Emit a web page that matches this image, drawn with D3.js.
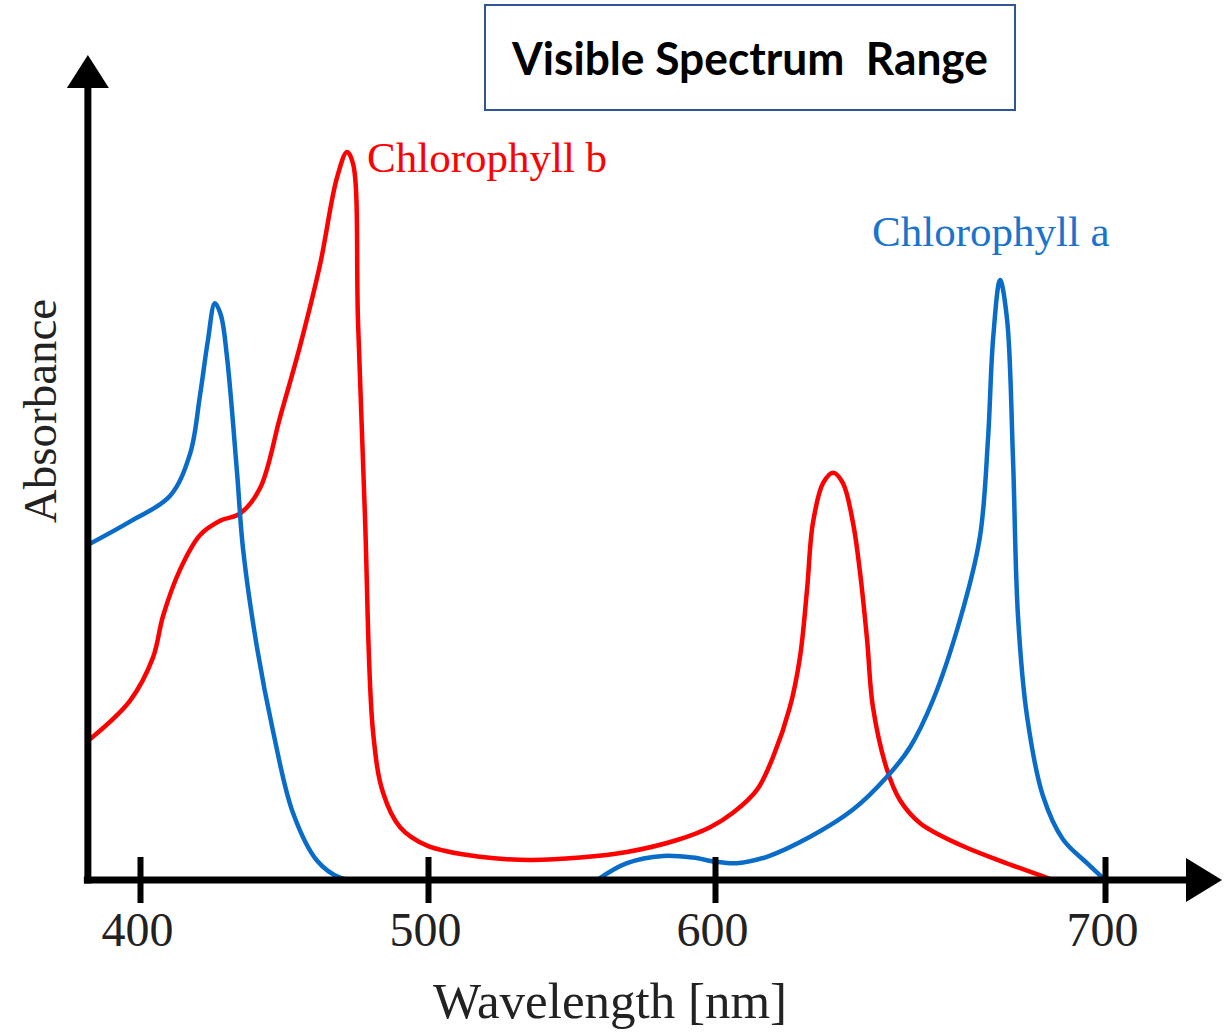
<!DOCTYPE html>
<html>
<head>
<meta charset="utf-8">
<script src="https://cdn.jsdelivr.net/npm/d3@7"></script>
<style>
  html, body { margin: 0; padding: 0; background: #ffffff; }
  svg { display: block; }
</style>
</head>
<body>
<svg id="chart" width="1231" height="1033"></svg>
<script>
// ---------- data ----------
const title = "Visible Spectrum  Range";
const xLabel = "Wavelength [nm]";
const yLabel = "Absorbance";
const tickValues = [400, 500, 600, 700];
const tickLabels = ["400", "500", "600", "700"];

// Chlorophyll a (blue) – null marks the gap where the curve sits on the axis
const chlAWavelength = [381.9, 396.5, 410.4, 417.4, 420.8, 423.6, 426.0, 428.1, 430.2, 433.7, 435.8, 440.6, 446.2, 453.1, 461.5, 469.4, 476.4,
  null,
  558.9, 569.3, 581.9, 592.3, 600.0, 605.6, 613.3, 624.4, 635.4, 644.1, 650.0, 655.9, 662.8, 667.9, 670.0, 671.3, 673.1, 674.9, 676.4, 677.7, 680.0, 684.1, 689.2, 695.4, 700.0];
const chlAAbsorbance = [41.9, 44.8, 48.0, 53.3, 60.5, 67.5, 72.1, 70.6, 65.4, 50.9, 41.3, 29.1, 18.6, 8.4, 2.4, 0.3, 0,
  null,
  0, 2.1, 3.0, 2.8, 2.3, 2.1, 2.9, 5.4, 8.8, 12.9, 16.6, 22.5, 32.5, 42.8, 55.1, 67.6, 75.0, 70.0, 52.8, 32.9, 20.5, 10.5, 5.1, 2.1, 0];

// Chlorophyll b (red)
const chlBWavelength = [382.6, 396.5, 404.5, 408.0, 413.9, 420.8, 427.8, 434.7, 441.7, 448.6, 455.6, 462.5, 468.4, 471.9, 474.0, 475.7, 478.1, 480.9, 484.4, 490.3, 499.7, 518.1, 535.5, 553.0, 569.3, 586.8, 598.3, 604.6, 610.8, 614.9, 619.2, 621.8, 623.6, 625.1, 627.7, 630.3, 632.8, 635.4, 637.2, 639.0, 640.5, 644.1, 647.4, 652.6, 662.8, 673.1, 686.7];
const chlBAbsorbance = [17.6, 22.4, 27.8, 33.0, 38.8, 43.1, 44.9, 45.8, 49.0, 57.8, 66.8, 76.9, 87.8, 91.0, 89.5, 69.8, 45.6, 18.6, 10.9, 6.6, 4.3, 2.9, 2.5, 2.8, 3.5, 5.0, 6.6, 8.4, 11.3, 15.4, 21.6, 27.9, 36.3, 44.6, 49.6, 50.9, 49.6, 44.6, 38.4, 30.0, 21.6, 13.8, 10.0, 7.1, 4.4, 2.4, 0];

const seriesNames = ["Chlorophyll a", "Chlorophyll b"];
const seriesColors = ["#0a6cc9", "#ff0000"];

// ---------- scales ----------
const svg = d3.select("#chart");
// the drawn wavelength axis is not evenly spaced, so use a piecewise linear scale
const x = d3.scaleLinear().domain([400, 500, 600, 700]).range([140, 428, 715, 1105]);
const y = d3.scaleLinear().domain([0, 100]).range([880, 80]);
const axisY = y(0);
const axisX = x(381.9);

// ---------- title box ----------
svg.append("rect")
  .attr("x", 485).attr("y", 5).attr("width", 530).attr("height", 105)
  .attr("fill", "#ffffff").attr("stroke", "#2f5597").attr("stroke-width", 2);
svg.append("text")
  .attr("x", 750).attr("y", 75)
  .attr("text-anchor", "middle")
  .attr("font-family", "Lato, 'Open Sans', sans-serif")
  .attr("font-weight", "bold")
  .attr("font-size", 46)
  .attr("textLength", 476).attr("lengthAdjust", "spacingAndGlyphs")
  .attr("fill", "#000000")
  .style("white-space", "pre")
  .text(title);

// ---------- curves ----------
const line = d3.line()
  .defined(d => d[0] != null && d[1] != null)
  .x(d => x(d[0])).y(d => y(d[1]))
  .curve(d3.curveCatmullRom.alpha(0.5));

const chlA = chlAWavelength.map((w, i) => [w, chlAAbsorbance[i]]);
const chlB = chlBWavelength.map((w, i) => [w, chlBAbsorbance[i]]);

svg.append("path").datum(chlB)
  .attr("d", line).attr("fill", "none")
  .attr("stroke", seriesColors[1]).attr("stroke-width", 4.5)
  .attr("stroke-linejoin", "round").attr("stroke-linecap", "round");
svg.append("path").datum(chlA)
  .attr("d", line).attr("fill", "none")
  .attr("stroke", seriesColors[0]).attr("stroke-width", 4.5)
  .attr("stroke-linejoin", "round").attr("stroke-linecap", "round");

// ---------- axes ----------
// y axis shaft + arrow
svg.append("line")
  .attr("x1", axisX).attr("x2", axisX).attr("y1", axisY + 3.5).attr("y2", 86)
  .attr("stroke", "#000").attr("stroke-width", 7);
svg.append("path")
  .attr("d", `M${axisX},55 L${axisX - 21},88 L${axisX + 21},88 Z`)
  .attr("fill", "#000");
// x axis shaft + arrow
svg.append("line")
  .attr("x1", axisX - 4).attr("x2", 1190).attr("y1", axisY).attr("y2", axisY)
  .attr("stroke", "#000").attr("stroke-width", 7);
svg.append("path")
  .attr("d", `M1222,${axisY} L1186,${axisY - 22} L1186,${axisY + 22} Z`)
  .attr("fill", "#000");

// ticks via d3 axis
const xAxis = d3.axisBottom(x)
  .tickValues(tickValues)
  .tickFormat((d, i) => tickLabels[i])
  .tickSize(0).tickPadding(0);
const gx = svg.append("g").attr("transform", `translate(0,${axisY})`).call(xAxis);
gx.select(".domain").remove();
gx.selectAll(".tick line")
  .attr("y1", -23).attr("y2", 23)
  .attr("stroke", "#000").attr("stroke-width", 6);
gx.selectAll(".tick text")
  .attr("y", 66).attr("dy", null).attr("dx", -3)
  .attr("font-family", "'Liberation Serif', 'Times New Roman', serif")
  .attr("font-size", 48)
  .attr("fill", "#222");

// axis titles
svg.append("text")
  .attr("x", 610).attr("y", 1018)
  .attr("text-anchor", "middle")
  .attr("font-family", "'Liberation Serif', 'Times New Roman', serif")
  .attr("font-size", 51).attr("fill", "#222")
  .text(xLabel);
svg.append("text")
  .attr("transform", "translate(56,411) rotate(-90)")
  .attr("text-anchor", "middle")
  .attr("font-family", "'Liberation Serif', 'Times New Roman', serif")
  .attr("font-size", 47).attr("fill", "#222")
  .text(yLabel);

// series labels
svg.append("text")
  .attr("x", 367).attr("y", 172)
  .attr("font-family", "'Liberation Serif', 'Times New Roman', serif")
  .attr("font-size", 43).attr("fill", seriesColors[1])
  .text(seriesNames[1]);
svg.append("text")
  .attr("x", 872).attr("y", 246)
  .attr("font-family", "'Liberation Serif', 'Times New Roman', serif")
  .attr("font-size", 43).attr("fill", "#1a73cc")
  .text(seriesNames[0]);
</script>
</body>
</html>
